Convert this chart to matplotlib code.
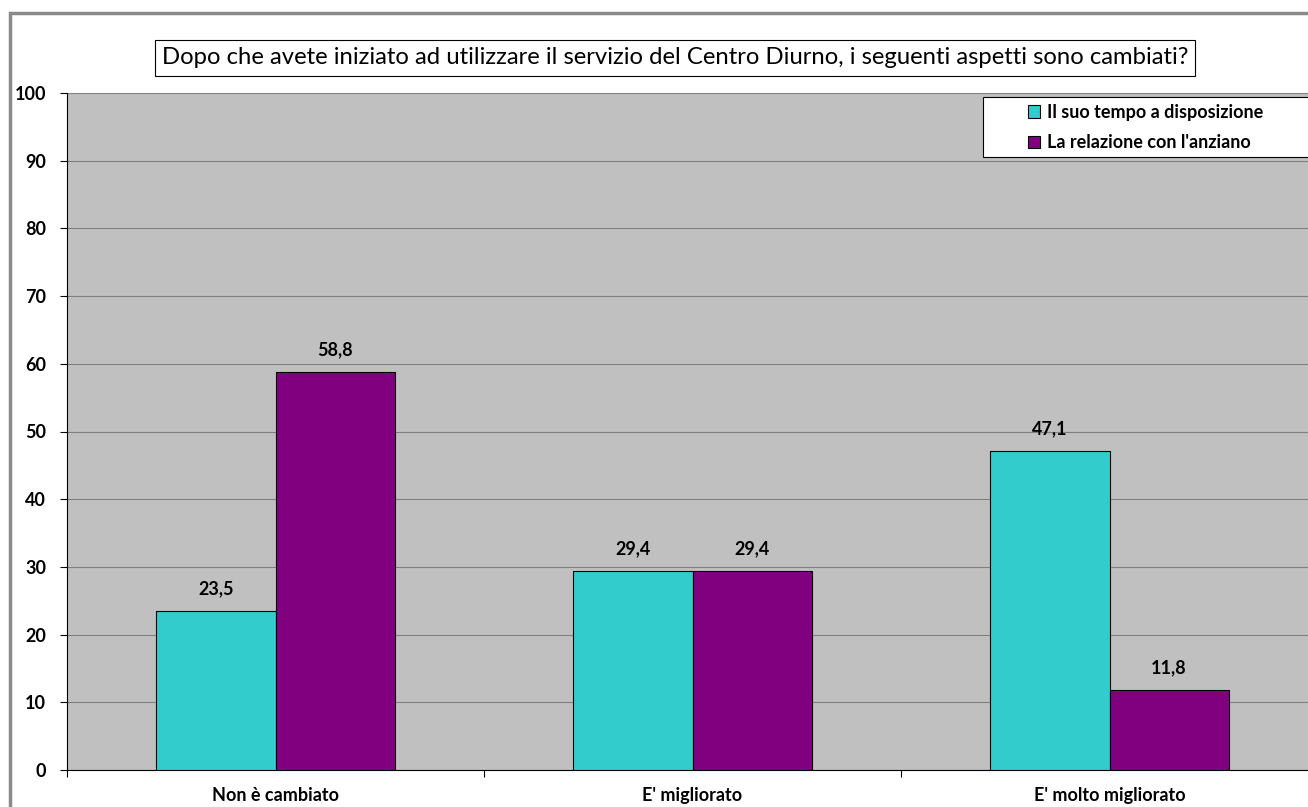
import matplotlib.pyplot as plt
import matplotlib.patches as patches
import numpy as np

plt.rcParams['font.family'] = ['Lato', 'DejaVu Sans']

categories = ["Non è cambiato", "E' migliorato", "E' molto migliorato"]
series_names = ["Il suo tempo a disposizione", "La relazione con l'anziano"]
tempo = [23.5, 29.4, 47.1]
relazione = [58.8, 29.4, 11.8]
colors = ['#33CCCC', '#800080']

W, H = 1308, 807
fig = plt.figure(figsize=(W / 100, H / 100), dpi=100)

# cornice esterna grigia (tagliata a destra e in basso come nell'originale)
frame = patches.Rectangle((10 / W, -0.05), 1.2, 1 - 13 / H + 0.05, transform=fig.transFigure,
                          fill=False, edgecolor='#8a8a8a', linewidth=2.5)
fig.patches.append(frame)

ax = fig.add_axes([67 / W, 37 / H, 1251 / W, 677 / H])
ax.set_facecolor('#C0C0C0')

x = np.arange(len(categories))
bw = 0.2854
b1 = ax.bar(x - bw / 2, tempo, bw, color=colors[0], edgecolor='black', linewidth=0.8,
            label=series_names[0], zorder=3)
b2 = ax.bar(x + bw / 2, relazione, bw, color=colors[1], edgecolor='black', linewidth=0.8,
            label=series_names[1], zorder=3)

for bars in (b1, b2):
    for r in bars:
        v = r.get_height()
        ax.text(r.get_x() + r.get_width() / 2, v + 2.0, f"{v:.1f}".replace('.', ','),
                ha='center', va='bottom', fontsize=13, fontweight='bold')

ax.set_xlim(-0.5, 2.5)
ax.set_ylim(0, 100)
ax.set_yticks(range(0, 101, 10))
ax.set_yticklabels([str(v) for v in range(0, 101, 10)], fontsize=13, fontweight='bold')
ax.yaxis.grid(True, color='#808080', linewidth=0.8, zorder=0)
ax.set_axisbelow(True)

ax.set_xticks([-0.5, 0.5, 1.5, 2.5])
ax.set_xticklabels([])
ax.set_xticks(x, minor=True)
ax.set_xticklabels(categories, minor=True, fontsize=13, fontweight='bold')
ax.tick_params(axis='x', which='minor', length=0, pad=12)
ax.tick_params(axis='x', which='major', length=5, direction='out', width=0.8)
ax.tick_params(axis='y', length=5, direction='out', width=0.8, pad=10)

for s in ['top', 'right']:
    ax.spines[s].set_visible(False)
ax.spines['left'].set_color('black')
ax.spines['bottom'].set_color('black')
ax.spines['left'].set_linewidth(0.8)
ax.spines['bottom'].set_linewidth(0.8)

# riquadro legenda (si estende oltre il bordo destro)
legbox = patches.Rectangle((983 / W, 1 - 157 / H), 400 / W, 60 / H, transform=fig.transFigure,
                           facecolor='white', edgecolor='black', linewidth=0.8, zorder=5)
fig.patches.append(legbox)
leg = fig.legend(handles=[b1, b2], labels=series_names, loc='upper left',
                 bbox_to_anchor=(1024 / W, 1 - 100 / H),
                 prop={'weight': 'bold', 'size': 13}, frameon=False,
                 handlelength=0.7, handleheight=0.7,
                 handletextpad=0.4, borderpad=0.2, labelspacing=0.75, borderaxespad=0)
leg.set_zorder(6)

fig.text(675 / W, 1 - 58 / H,
         "Dopo che avete iniziato ad utilizzare il servizio del Centro Diurno, i seguenti aspetti sono cambiati?",
         ha='center', va='center', fontsize=17.2,
         bbox=dict(boxstyle='square,pad=0.3', facecolor='white', edgecolor='black', linewidth=0.8))

fig.savefig('out.png', dpi=100, facecolor='white')
